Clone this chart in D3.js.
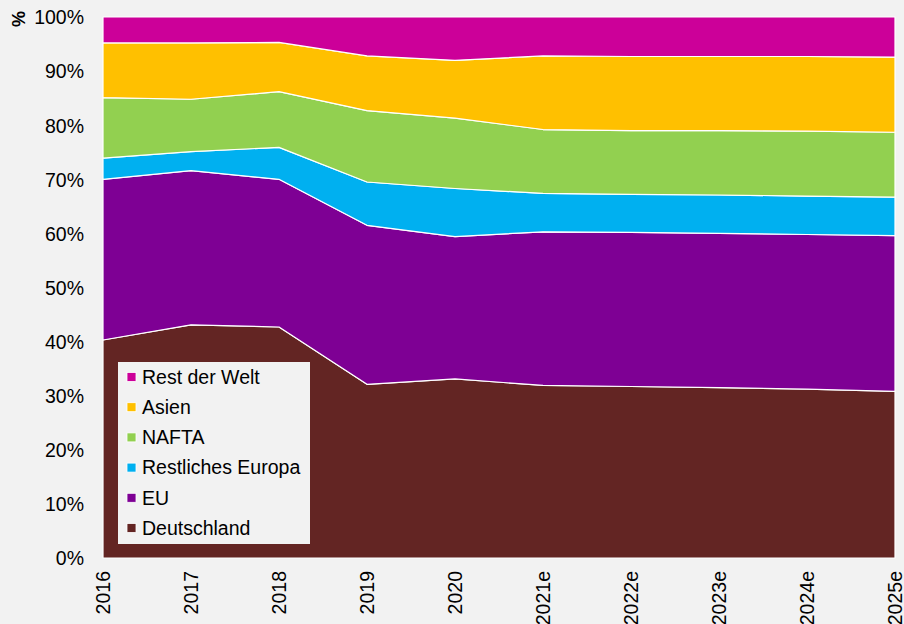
<!DOCTYPE html>
<html>
<head>
<meta charset="utf-8">
<script src="https://cdn.jsdelivr.net/npm/d3@7"></script>
<style>
  body { margin: 0; background: #f2f2f2; }
  svg { display: block; font-family: Arial, "Liberation Sans", sans-serif; }
</style>
</head>
<body>
<div id="chart"></div>
<script>
// years on the x axis
var years = ["2016", "2017", "2018", "2019", "2020", "2021e", "2022e", "2023e", "2024e", "2025e"];

// shares in % per region (bottom to top of the stack)
var deutschland     = [40.3, 43.1, 42.7, 32.1, 33.1, 31.9, 31.7, 31.5, 31.2, 30.8];
var eu              = [29.7, 28.5, 27.3, 29.4, 26.3, 28.4, 28.5, 28.5, 28.6, 28.8];
var restlEuropa     = [3.9, 3.5, 5.9, 8.0, 8.9, 7.1, 7.0, 7.1, 7.1, 7.1];
var nafta           = [11.2, 9.7, 10.3, 13.2, 13.0, 11.8, 11.8, 11.9, 12.0, 12.0];
var asien           = [10.1, 10.4, 9.1, 10.1, 10.7, 13.6, 13.7, 13.7, 13.8, 13.9];
var restDerWelt     = [4.8, 4.8, 4.7, 7.2, 8.0, 7.2, 7.3, 7.3, 7.3, 7.4];

var seriesNames = ["Deutschland", "EU", "Restliches Europa", "NAFTA", "Asien", "Rest der Welt"];
var seriesValues = [deutschland, eu, restlEuropa, nafta, asien, restDerWelt];
var yTicks = [0, 10, 20, 30, 40, 50, 60, 70, 80, 90, 100];

var colors = {
  "Deutschland": "#632523",
  "EU": "#7e0094",
  "Restliches Europa": "#00b0f0",
  "NAFTA": "#92d050",
  "Asien": "#ffc000",
  "Rest der Welt": "#cc0099"
};

var width = 904, height = 624;
var margin = { left: 103, right: 9, top: 17, bottom: 66 };
var figw = width - margin.left - margin.right,
    figh = height - margin.top - margin.bottom;

// table built from the arrays
var table = years.map(function(y, i) {
  var row = { year: y };
  seriesNames.forEach(function(n, j) { row[n] = seriesValues[j][i]; });
  return row;
});

var svg = d3.select("#chart").append("svg")
    .attr("width", width)
    .attr("height", height);

svg.append("rect")
    .attr("width", width)
    .attr("height", height)
    .attr("fill", "#f2f2f2");

var g = svg.append("g")
    .attr("transform", "translate(" + margin.left + "," + margin.top + ")");

var xScale = d3.scalePoint().domain(years).range([0, figw]);
var yScale = d3.scaleLinear().domain([0, 100]).range([figh, 0]);

var stack = d3.stack().keys(seriesNames);
var layers = stack(table);

var area = d3.area()
    .x(function(d) { return xScale(d.data.year); })
    .y0(function(d) { return yScale(d[0]); })
    .y1(function(d) { return yScale(d[1]); });

g.selectAll(".layer")
  .data(layers)
  .enter().append("path")
    .attr("class", "layer")
    .attr("d", area)
    .attr("fill", function(d) { return colors[d.key]; })
    .attr("stroke", "#ffffff")
    .attr("stroke-width", 1.2)
    .attr("stroke-linejoin", "round");

// y axis
var yAxis = g.append("g")
    .call(d3.axisLeft(yScale).tickValues(yTicks).tickFormat(function(d) { return d + "%"; }).tickSize(0).tickPadding(19));
yAxis.select(".domain").remove();
yAxis.selectAll("text")
    .attr("fill", "#000")
    .style("font-size", "19.5px")
    .attr("dy", "0.35em");

// x axis, rotated labels
var xAxis = g.append("g")
    .attr("transform", "translate(0," + figh + ")")
    .call(d3.axisBottom(xScale).tickSize(0));
xAxis.select(".domain").remove();
xAxis.selectAll("text")
    .attr("fill", "#000")
    .style("font-size", "19.5px")
    .attr("transform", "rotate(-90)")
    .attr("x", -13)
    .attr("y", 0)
    .attr("dy", "0.35em")
    .style("text-anchor", "end");

// unit label
svg.append("text")
    .attr("transform", "translate(19,19) rotate(-90)")
    .attr("text-anchor", "middle")
    .attr("dy", "0.35em")
    .style("font-size", "18px")
    .style("font-weight", "bold")
    .text("%");

// legend
var legend = svg.append("g").attr("transform", "translate(118,362)");
legend.append("rect")
    .attr("width", 192)
    .attr("height", 182)
    .attr("fill", "#f2f2f2");

var legendItems = seriesNames.slice().reverse();
var li = legend.selectAll(".li")
  .data(legendItems)
  .enter().append("g")
    .attr("class", "li")
    .attr("transform", function(d, i) { return "translate(0," + (15 + i * 30.2) + ")"; });

li.append("rect")
    .attr("x", 9)
    .attr("y", -4.5)
    .attr("width", 9)
    .attr("height", 9)
    .attr("fill", function(d) { return colors[d]; })
    .attr("stroke", "#ffffff")
    .attr("stroke-width", 0.8);

li.append("text")
    .attr("x", 24)
    .attr("dy", "0.35em")
    .style("font-size", "19.5px")
    .attr("fill", "#000")
    .text(function(d) { return d; });
</script>
</body>
</html>
